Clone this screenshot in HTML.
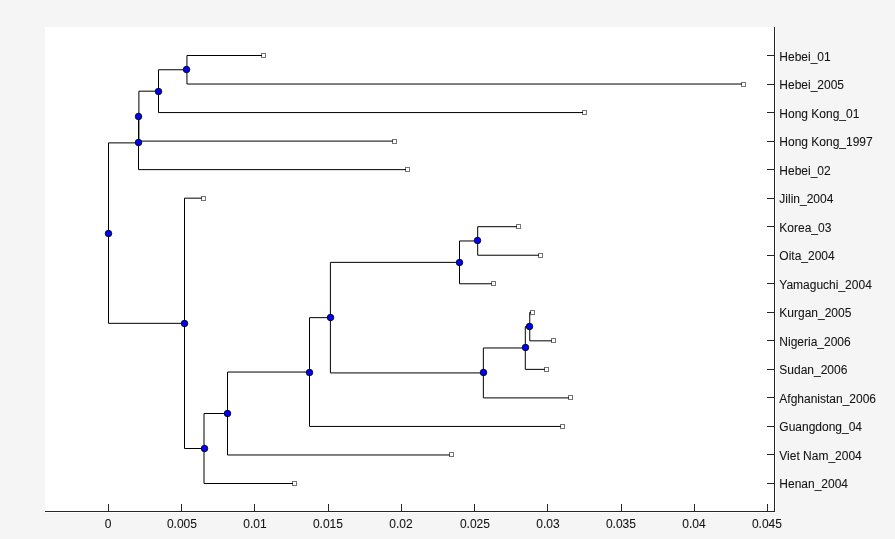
<!DOCTYPE html>
<html lang="en">
<head>
<meta charset="utf-8">
<title>Phylogenetic tree</title>
<style>
html,body{margin:0;padding:0;background:#f5f5f5;overflow:hidden}
svg{display:block}
</style>
</head>
<body>
<svg width="895" height="539" viewBox="0 0 895 539">
<rect x="0" y="0" width="895" height="539" fill="#f5f5f5"/>
<rect x="45" y="27" width="731" height="486" fill="#fff"/>
<g fill="#fff" stroke="#747474" stroke-width="1" shape-rendering="crispEdges">
<rect x="261.5" y="53.5" width="4" height="4"/>
<rect x="741.5" y="82.5" width="4" height="4"/>
<rect x="582.5" y="110.5" width="4" height="4"/>
<rect x="392.5" y="139.5" width="4" height="4"/>
<rect x="405.5" y="167.5" width="4" height="4"/>
<rect x="201.5" y="196.5" width="4" height="4"/>
<rect x="516.5" y="224.5" width="4" height="4"/>
<rect x="538.5" y="253.5" width="4" height="4"/>
<rect x="491.5" y="281.5" width="4" height="4"/>
<rect x="530.5" y="310.5" width="4" height="4"/>
<rect x="551.5" y="338.5" width="4" height="4"/>
<rect x="544.5" y="367.5" width="4" height="4"/>
<rect x="568.5" y="395.5" width="4" height="4"/>
<rect x="560.5" y="424.5" width="4" height="4"/>
<rect x="449.5" y="452.5" width="4" height="4"/>
<rect x="292.5" y="481.5" width="4" height="4"/>
</g>
<path d="M186.95 69.77V55.50H262.00M186.95 69.77V84.03H742.00M158.50 91.17V69.77H186.95M158.50 91.17V112.57H583.00M138.90 116.13V91.17H158.50M138.90 116.13V141.10H393.00M138.50 142.88V116.13H138.90M138.50 142.88V169.63H406.00M477.70 240.97V226.70H517.00M477.70 240.97V255.23H539.00M459.50 262.37V240.97H477.70M459.50 262.37V283.77H492.00M529.75 326.57V312.30H531.00M529.75 326.57V340.83H552.00M525.30 347.97V326.57H529.75M525.30 347.97V369.37H545.00M483.35 372.93V347.97H525.30M483.35 372.93V397.90H569.00M330.40 317.65V262.37H459.50M330.40 317.65V372.93H483.35M309.50 372.04V317.65H330.40M309.50 372.04V426.43H561.00M227.50 413.50V372.04H309.50M227.50 413.50V454.97H450.00M204.00 448.50V413.50H227.50M204.00 448.50V483.50H293.00M184.50 323.33V198.17H202.00M184.50 323.33V448.50H204.00M108.50 233.11V142.88H138.50M108.50 233.11V323.33H184.50" fill="none" stroke="#000" stroke-width="1" stroke-linejoin="miter"/>
<g fill="#0000ff" stroke="#000" stroke-width="0.85">
<circle cx="186.5" cy="69.5" r="3.25"/>
<circle cx="158.5" cy="91.5" r="3.25"/>
<circle cx="138.5" cy="116.5" r="3.25"/>
<circle cx="138.5" cy="142.5" r="3.25"/>
<circle cx="477.5" cy="240.5" r="3.25"/>
<circle cx="459.5" cy="262.5" r="3.25"/>
<circle cx="529.5" cy="326.5" r="3.25"/>
<circle cx="525.5" cy="347.5" r="3.25"/>
<circle cx="483.5" cy="372.5" r="3.25"/>
<circle cx="330.5" cy="317.5" r="3.25"/>
<circle cx="309.5" cy="372.5" r="3.25"/>
<circle cx="227.5" cy="413.5" r="3.25"/>
<circle cx="204.5" cy="448.5" r="3.25"/>
<circle cx="184.5" cy="323.5" r="3.25"/>
<circle cx="108.5" cy="233.5" r="3.25"/>
</g>
<path d="M45 511.5H775M774.5 27V512" fill="none" stroke="#262626" stroke-width="1"/>
<path d="M108.5 511.5V504M181.5 511.5V504M254.5 511.5V504M328.5 511.5V504M401.5 511.5V504M474.5 511.5V504M547.5 511.5V504M621.5 511.5V504M694.5 511.5V504M767.5 511.5V504M774.5 55.5H767M774.5 84.5H767M774.5 112.5H767M774.5 141.5H767M774.5 169.5H767M774.5 198.5H767M774.5 226.5H767M774.5 255.5H767M774.5 283.5H767M774.5 312.5H767M774.5 340.5H767M774.5 369.5H767M774.5 397.5H767M774.5 426.5H767M774.5 454.5H767M774.5 483.5H767" fill="none" stroke="#262626" stroke-width="1"/>
<g font-family="'Liberation Sans', Arial, Helvetica, sans-serif" font-size="12" fill="#151515" stroke="#151515" stroke-width="0.08">
<text x="108.2" y="528.1" text-anchor="middle">0</text>
<text x="181.9" y="528.1" text-anchor="middle">0.005</text>
<text x="254.9" y="528.1" text-anchor="middle">0.01</text>
<text x="327.9" y="528.1" text-anchor="middle">0.015</text>
<text x="400.9" y="528.1" text-anchor="middle">0.02</text>
<text x="474.9" y="528.1" text-anchor="middle">0.025</text>
<text x="547.9" y="528.1" text-anchor="middle">0.03</text>
<text x="620.9" y="528.1" text-anchor="middle">0.035</text>
<text x="693.9" y="528.1" text-anchor="middle">0.04</text>
<text x="766.9" y="528.1" text-anchor="middle">0.045</text>
<text x="779.3" y="60.8">Hebei_01</text>
<text x="779.3" y="88.8">Hebei_2005</text>
<text x="779.3" y="117.8">Hong Kong_01</text>
<text x="779.3" y="145.8">Hong Kong_1997</text>
<text x="779.3" y="174.8">Hebei_02</text>
<text x="779.3" y="202.8">Jilin_2004</text>
<text x="779.3" y="231.8">Korea_03</text>
<text x="779.3" y="259.8">Oita_2004</text>
<text x="779.3" y="288.8">Yamaguchi_2004</text>
<text x="779.3" y="316.8">Kurgan_2005</text>
<text x="779.3" y="345.8">Nigeria_2006</text>
<text x="779.3" y="373.8">Sudan_2006</text>
<text x="779.3" y="402.8">Afghanistan_2006</text>
<text x="779.3" y="430.8">Guangdong_04</text>
<text x="779.3" y="459.8">Viet Nam_2004</text>
<text x="779.3" y="487.8">Henan_2004</text>
</g>
</svg>
</body>
</html>
